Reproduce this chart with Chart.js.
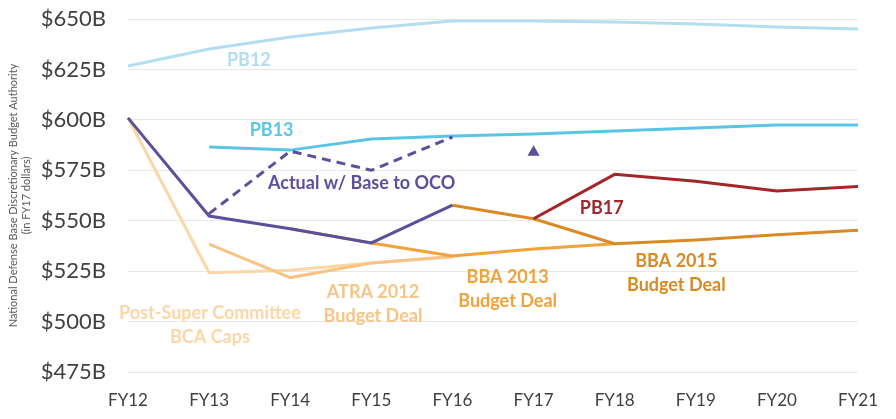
<!DOCTYPE html>
<html>
<head>
<meta charset="utf-8">
<script src="https://cdn.jsdelivr.net/npm/chart.js@4.4.1/dist/chart.umd.min.js"></script>
<style>
  html, body { margin: 0; padding: 0; background: #fff; }
  #wrap { width: 896px; height: 419px; position: relative; }
</style>
</head>
<body>
<div id="wrap"><canvas id="chart"></canvas></div>
<script>
// categories + series (billions FY17 $), null = no value
const years = ['FY12','FY13','FY14','FY15','FY16','FY17','FY18','FY19','FY20','FY21'];
const yTicks = [475, 500, 525, 550, 575, 600, 625, 650];

const actual      = [601, 552.3, 546, 539, 557.7, null, null, null, null, null];
const actualOco   = [null, 553.5, 584.5, 575, 591.5, null, null, null, null, null];
const actualFY17  = [null, null, null, null, null, 584, null, null, null, null];
const pb12        = [626.7, 635.1, 641.1, 645.5, 649, 649, 648.5, 647.5, 646, 645];
const pb13        = [null, 586.5, 585, 590.5, 592, 593, 594.5, 596, 597.5, 597.5];
const pb17        = [null, null, null, null, null, 551, 573, 569.6, 564.7, 567];
const bba2015     = [null, null, null, null, 557.7, 551, 538.6, 540.4, 543, 545.3];
const bba2013     = [null, null, 546, 539, 532.5, 536, 538.6, null, null, null];
const atra2012    = [null, 538.4, 521.8, 529, 532.2, null, null, null, null, null];
const postSuper   = [601, 524.2, 525.5, 529, 532, null, null, null, null, null];

// text labels placed on the chart (x = category index, y = value)
const notes = [
  { lines: ['PB12'], x: 1.49, y: 629.7, color: '#b2def0' },
  { lines: ['PB13'], x: 1.77, y: 594.9, color: '#5bc5e6' },
  { lines: ['Actual w/ Base to OCO'], x: 2.88, y: 568.7, color: '#5c4f9c' },
  { lines: ['PB17'], x: 5.84, y: 556.3, color: '#a3262b' },
  { lines: ['BBA 2013', 'Budget Deal'], x: 4.68, y: 522, color: '#f2a23a' },
  { lines: ['BBA 2015', 'Budget Deal'], x: 6.76, y: 530, color: '#d98a22' },
  { lines: ['ATRA 2012', 'Budget Deal'], x: 3.02, y: 514.6, color: '#f8c486' },
  { lines: ['Post-Super Committee', 'BCA Caps'], x: 1.01, y: 504.2, color: '#fbd6a6' }
];

const FONT = 'Lato, "Open Sans", sans-serif';

function line(label, data, color, extra) {
  return Object.assign({
    label: label,
    data: data,
    borderColor: color,
    backgroundColor: color,
    borderWidth: 3,
    pointRadius: 0,
    tension: 0,
    spanGaps: false,
    fill: false
  }, extra || {});
}

// écrit les étiquettes des séries
const notesPlugin = {
  id: 'notes',
  afterDatasetsDraw(chart) {
    const { ctx, scales } = chart;
    const xs = scales.x, ys = scales.y;
    ctx.save();
    ctx.font = 'bold 18px ' + FONT;
    ctx.textAlign = 'center';
    ctx.textBaseline = 'middle';
    notes.forEach(n => {
      const px = xs.left + xs.width * n.x / (years.length - 1);
      const py = ys.getPixelForValue(n.y);
      ctx.fillStyle = n.color;
      n.lines.forEach((t, i) => ctx.fillText(t, px, py + i * 24));
    });
    ctx.restore();
  }
};

new Chart(document.getElementById('chart').getContext('2d'), {
  type: 'line',
  data: {
    labels: years,
    datasets: [
      line('Actual', actual, '#5c4f9c'),
      line('Actual w/ Base to OCO', actualOco, '#5c4f9c', { borderDash: [9, 6] }),
      line('Actual FY17', actualFY17, '#5c4f9c', { showLine: false, pointStyle: 'triangle', pointRadius: 4 }),
      line('PB12', pb12, '#b2def0'),
      line('PB13', pb13, '#5bc5e6'),
      line('PB17', pb17, '#a3262b'),
      line('BBA 2015', bba2015, '#d98a22'),
      line('BBA 2013', bba2013, '#f2a23a'),
      line('ATRA 2012', atra2012, '#f8c486'),
      line('Post-Super Committee', postSuper, '#fbd6a6')
    ]
  },
  options: {
    responsive: true,
    maintainAspectRatio: false,
    animation: false,
    layout: { padding: { top: 19, right: 30, left: 0, bottom: 0 } },
    plugins: {
      legend: { display: false },
      tooltip: { enabled: false }
    },
    scales: {
      x: {
        offset: false,
        grid: { display: false, drawTicks: false },
        border: { display: false },
        ticks: { color: '#404040', font: { family: FONT, size: 17 }, padding: 18, maxRotation: 0 },
        afterFit(scale) { scale.height = 47; }
      },
      y: {
        min: 475,
        max: 650,
        afterBuildTicks(scale) { scale.ticks = yTicks.map(v => ({ value: v })); },
        grid: { color: '#e8e8e8', lineWidth: 1, drawTicks: false },
        border: { display: false },
        ticks: {
          color: '#404040',
          font: { family: FONT, size: 22 },
          padding: 22,
          callback: v => '$' + v + 'B'
        },
        title: {
          display: true,
          text: ['National Defense Base Discretionary Budget Authority', '(in FY17 dollars)'],
          color: '#595959',
          font: { family: FONT, size: 11 },
          padding: { top: 7, bottom: 0 }
        },
        afterFit(scale) {
          scale.width = 128;
          // la marge des ticks ne doit pas pousser la zone du graphique
          scale.paddingTop = 13;
          scale.paddingBottom = 13;
        }
      }
    }
  },
  plugins: [notesPlugin]
});
</script>
</body>
</html>
